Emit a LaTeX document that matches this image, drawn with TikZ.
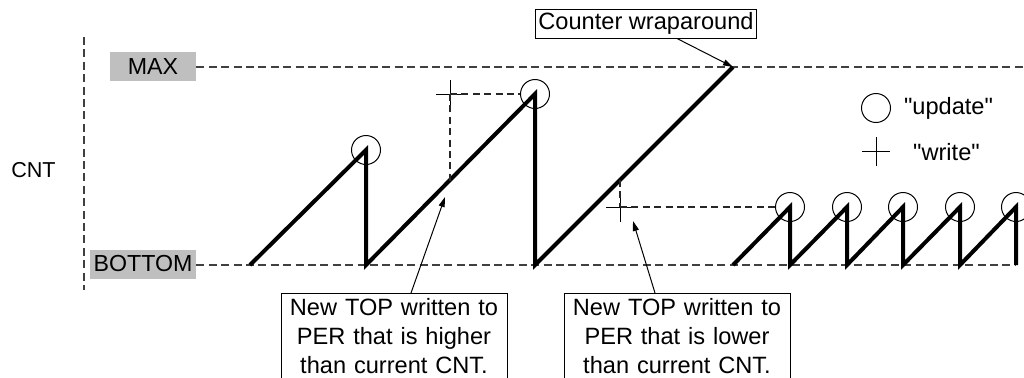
\documentclass[tikz,border=0pt]{standalone}
\usepackage{fontspec}
\setmainfont{Liberation Sans}[Ligatures=TeXOff]
\usetikzlibrary{arrows.meta}
\definecolor{lblgray}{RGB}{191,191,191}
\begin{document}
\begin{tikzpicture}[x=0.5pt,y=-0.5pt,
  saw/.style={line width=2pt, line join=miter, line cap=butt},
  level/.style={dash pattern=on 4pt off 2.2pt, line width=0.65pt, draw=black!75},
  guide/.style={dash pattern=on 3.5pt off 2.2pt, line width=0.55pt, draw=black!85},
  upd/.style={circle, draw, line width=0.5pt, minimum size=14.5pt, inner sep=0pt},
  lvl/.style={fill=lblgray, inner sep=0pt, minimum height=14.5pt, font=\fontsize{11.6}{14}\selectfont},
  note/.style={draw, line width=0.5pt, align=center, inner xsep=4pt, inner ysep=2.5pt,
    text width=105pt, anchor=north, font=\fontsize{11.8}{14.5}\selectfont},
  callout/.style={-{Triangle[length=5pt,width=3pt]}, line width=0.5pt},
  txt/.style={inner sep=0pt, font=\fontsize{11.8}{14}\selectfont},
  plusmark/.style={line width=0.5pt}
]
\useasboundingbox (0,0) rectangle (1024,377);
\clip (0,0) rectangle (1024,377);

% axis and levels
\coordinate (axtop) at (84,37);
\coordinate (axbot) at (84,290);
\draw[level] (axtop) -- (axbot);
\node[txt, font=\fontsize{10.8}{12}\selectfont] (cnt) at (33.5,170.5) {CNT};

\node[lvl, minimum width=43pt] (max) at (153,66.5) {MAX};
\node[lvl, minimum width=53pt] (bot) at (143,264) {BOTTOM};
\coordinate (maxend) at (1024,67);
\coordinate (botend) at (1016,265);
\draw[level] (max.east |- maxend) -- (maxend);
\draw[level] (bot.east |- botend) -- (botend);

% sawtooth points
\coordinate (s0) at (250,265);
\coordinate (p1) at (366,150);
\coordinate (b1) at (366,265);
\coordinate (p2) at (535,94);
\coordinate (b2) at (535,265);
\coordinate (wrap) at (733,67);
\coordinate (s4) at (733,265);
\coordinate (q1) at (790,207);  \coordinate (c1) at (790,265);
\coordinate (q2) at (847,207);  \coordinate (c2) at (847,265);
\coordinate (q3) at (903,207);  \coordinate (c3) at (903,265);
\coordinate (q4) at (960,207);  \coordinate (c4) at (960,265);
\coordinate (q5) at (1016,207); \coordinate (c5) at (1016,265);

\draw[saw] (s0) -- (p1) -- (b1) -- (p2) -- (b2) -- (wrap);
\draw[saw] (s4) -- (q1) -- (c1) -- (q2) -- (c2) -- (q3) -- (c3) -- (q4) -- (c4) -- (q5) -- (c5);

% update circles
\node[upd] (u1) at (p1) {};
\node[upd] (u2) at (p2) {};
\node[upd] (u3) at (q1) {};
\node[upd] (u4) at (q2) {};
\node[upd] (u5) at (q3) {};
\node[upd] (u6) at (q4) {};
\node[upd] (u7) at (q5) {};

% write markers
\coordinate (w1) at (450,94);
\coordinate (w1r) at (450,181);
\draw[plusmark] (436,94) -- (465,94) (450,80) -- (450,108);
\draw[guide] (w1) -- (u2);
\draw[guide] (w1) -- (w1r);

\coordinate (w2) at (620,207);
\coordinate (w2r) at (620,180);
\draw[plusmark] (606,207) -- (635,207) (620,193) -- (620,222);
\draw[guide] (w2r) -- (w2);
\draw[guide] (w2) -- (u3);

% legend
\node[upd] (lgc) at (876,108) {};
\node[txt] (lgu) at (948.5,108) {"update"};
\draw[plusmark] (862,151) -- (890,151) (876,137) -- (876,166);
\coordinate (lgp) at (876,151);
\node[txt] (lgw) at (946.5,152.5) {"write"};

% notes
\node[draw, line width=0.5pt, inner xsep=1.25pt, inner ysep=0pt, minimum height=14.5pt,
  font=\fontsize{11.8}{14}\selectfont] (cw) at (646,23.5) {Counter wraparound};
\draw[callout] ([xshift=15.5pt]cw.south) -- (wrap);

\node[note] (n1) at (394,293) {New TOP written to PER that is higher than current CNT.};
\node[note] (n2) at (677,293) {New TOP written to PER that is lower than current CNT.};
\coordinate (t1) at (445,197);
\coordinate (t2) at (633,221);
\draw[callout] ([xshift=8.5pt]n1.north) -- (t1);
\draw[callout] ([xshift=-11pt]n2.north) -- (t2);
\end{tikzpicture}
\end{document}
